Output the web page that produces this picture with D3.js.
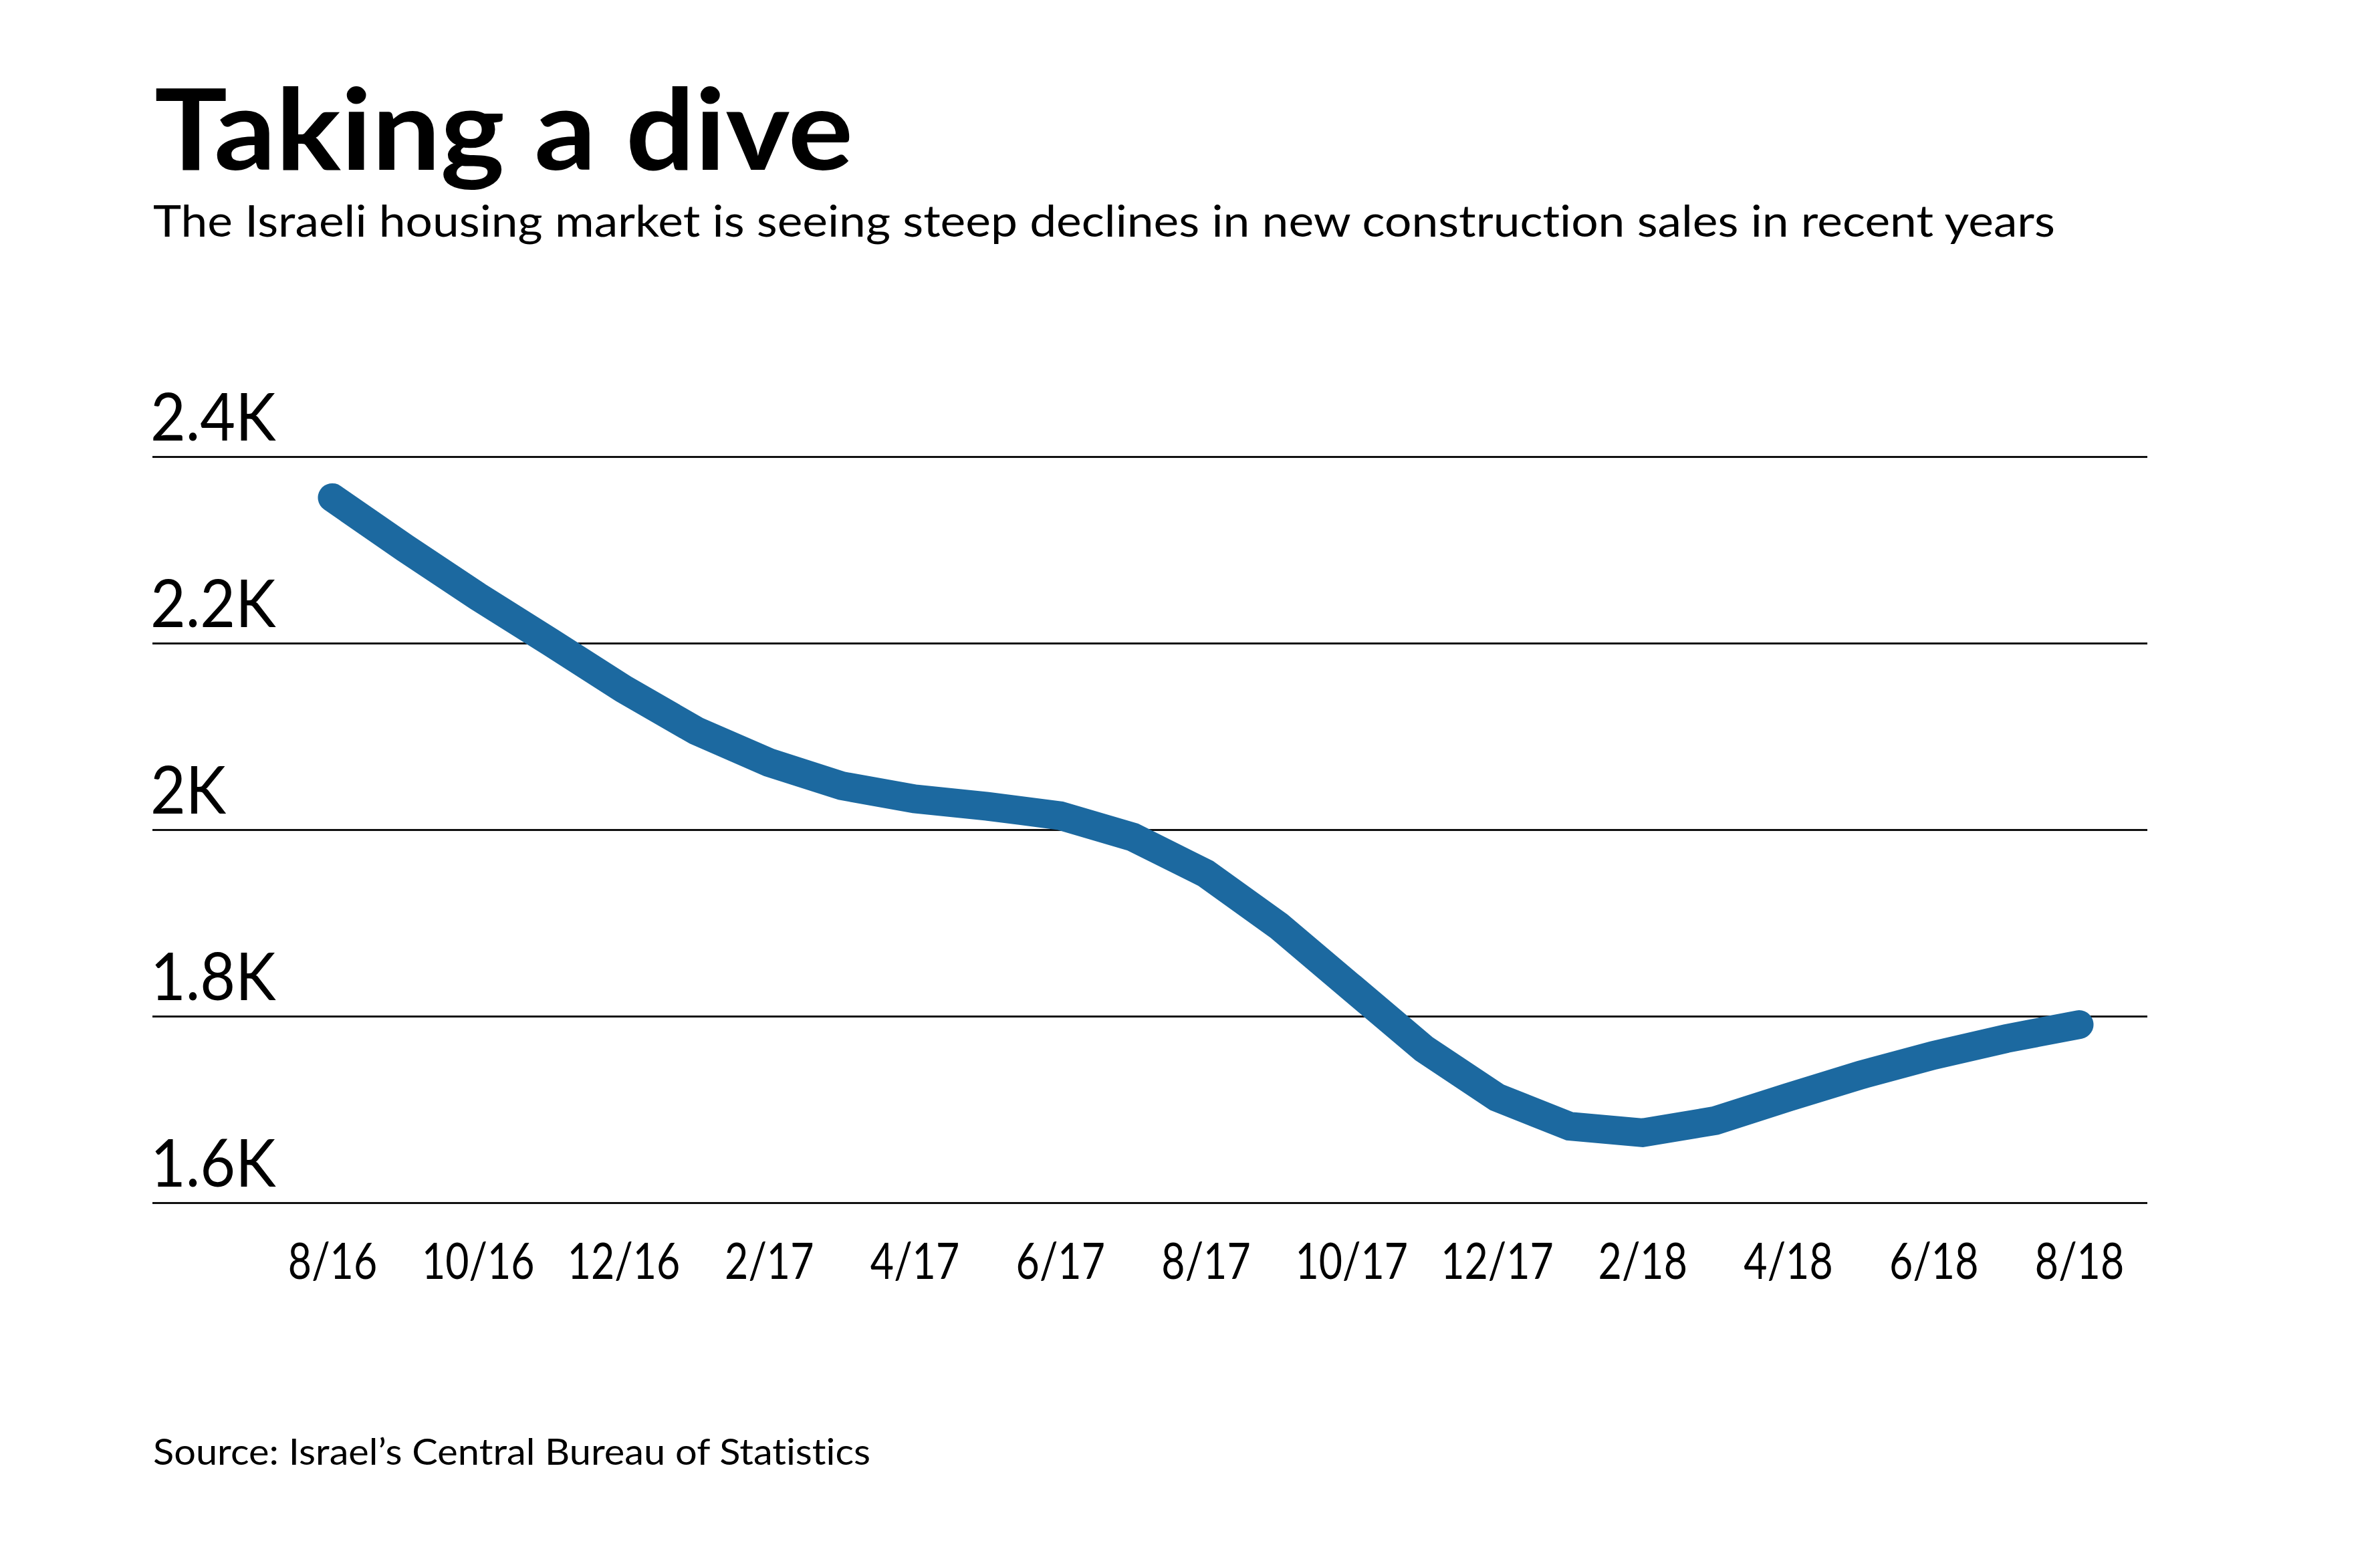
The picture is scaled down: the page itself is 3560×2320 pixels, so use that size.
<!DOCTYPE html>
<html lang="en">
<head>
<meta charset="utf-8">
<title>Taking a dive</title>
<script src="https://cdn.jsdelivr.net/npm/d3@7/dist/d3.min.js"></script>
<style>
  html, body { margin: 0; padding: 0; background: #fff; }
  svg { display: block; font-family: Lato, "Noto Sans", sans-serif; font-variant-ligatures: none; }
</style>
</head>
<body>
<script>
// chart data (new construction sales, monthly)
var months = ["8/16","9/16","10/16","11/16","12/16","1/17","2/17","3/17","4/17","5/17","6/17","7/17",
              "8/17","9/17","10/17","11/17","12/17","1/18","2/18","3/18","4/18","5/18","6/18","7/18","8/18"];
var sales = [2356, 2302, 2250, 2201, 2151, 2106, 2072, 2047, 2033, 2025, 2015, 1992,
             1953, 1897, 1831, 1765, 1713, 1682, 1675, 1688, 1713, 1737, 1758, 1776, 1791];
var xTickLabels = ["8/16","10/16","12/16","2/17","4/17","6/17","8/17","10/17","12/17","2/18","4/18","6/18","8/18"];
var yTicks = [1600, 1800, 2000, 2200, 2400];

var title = "Taking a dive";
var subtitle = "The Israeli housing market is seeing steep declines in new construction sales in recent years";
var source = "Source: Israel\u2019s Central Bureau of Statistics";

//Width and height
var w = 3560;
var h = 2320;
var gridLeft = 228, gridRight = 3212;

var svg = d3.select("body")
            .append("svg")
            .attr("width", w)
            .attr("height", h);

// fit a text to a measured width from the reference
function fitWidth(sel, target) {
  sel.attr("textLength", target).attr("lengthAdjust", "spacingAndGlyphs");
}
// squeeze every label of a group by the same factor (reference font is narrower)
function squeeze(sel, factor) {
  sel.each(function() {
    var len = this.getComputedTextLength();
    d3.select(this).attr("textLength", len * factor).attr("lengthAdjust", "spacingAndGlyphs");
  });
}

var t = svg.append("text")
   .attr("x", 231).attr("y", 254)
   .attr("font-size", 169).attr("font-weight", 700)
   .attr("fill", "#000")
   .text(title);
fitWidth(t, 1045);

var st = svg.append("text")
   .attr("x", 229).attr("y", 354)
   .attr("font-size", 66)
   .attr("fill", "#000")
   .text(subtitle);
fitWidth(st, 2845);

var src = svg.append("text")
   .attr("x", 229).attr("y", 2191)
   .attr("font-size", 54)
   .attr("fill", "#000")
   .text(source);
fitWidth(src, 1073);

var x = d3.scalePoint()
          .domain(months)
          .range([497, 3110]);

var y = d3.scaleLinear()
          .domain([1600, 2400])
          .range([1799, 683]);

// horizontal grid + labels above each line
var yAxis = d3.axisRight(y)
              .tickValues(yTicks)
              .tickSize(gridRight - gridLeft)
              .tickFormat(function(d) { return d3.format(".1~f")(d / 1000) + "K"; });

var gy = svg.append("g")
   .attr("transform", "translate(" + gridLeft + ",0)")
   .call(yAxis);
gy.select(".domain").remove();
gy.selectAll(".tick line")
  .attr("stroke", "#111")
  .attr("stroke-width", 3);
var yText = gy.selectAll(".tick text")
  .attr("x", -3)
  .attr("dy", -25)
  .attr("text-anchor", "start")
  .attr("font-family", "Lato, 'Noto Sans', sans-serif")
  .attr("font-size", 98)
  .attr("fill", "#000");
squeeze(yText, 0.93);

// month labels
var xAxis = d3.axisBottom(x)
              .tickValues(xTickLabels)
              .tickSize(0)
              .tickPadding(0);

var gx = svg.append("g")
   .attr("transform", "translate(0,1913)")
   .call(xAxis);
gx.select(".domain").remove();
var xText = gx.selectAll(".tick text")
  .attr("dy", 0)
  .attr("y", 0)
  .attr("font-family", "Lato, 'Noto Sans', sans-serif")
  .attr("font-size", 76)
  .attr("fill", "#000");
squeeze(xText, 0.8);

var line = d3.line()
   .x(function(d, i) { return x(months[i]); })
   .y(function(d) { return y(d); });

svg.append("path")
   .datum(sales)
   .attr("d", line)
   .attr("fill", "none")
   .attr("stroke", "#1c69a0")
   .attr("stroke-width", 43)
   .attr("stroke-linecap", "round")
   .attr("stroke-linejoin", "miter");
</script>
</body>
</html>
